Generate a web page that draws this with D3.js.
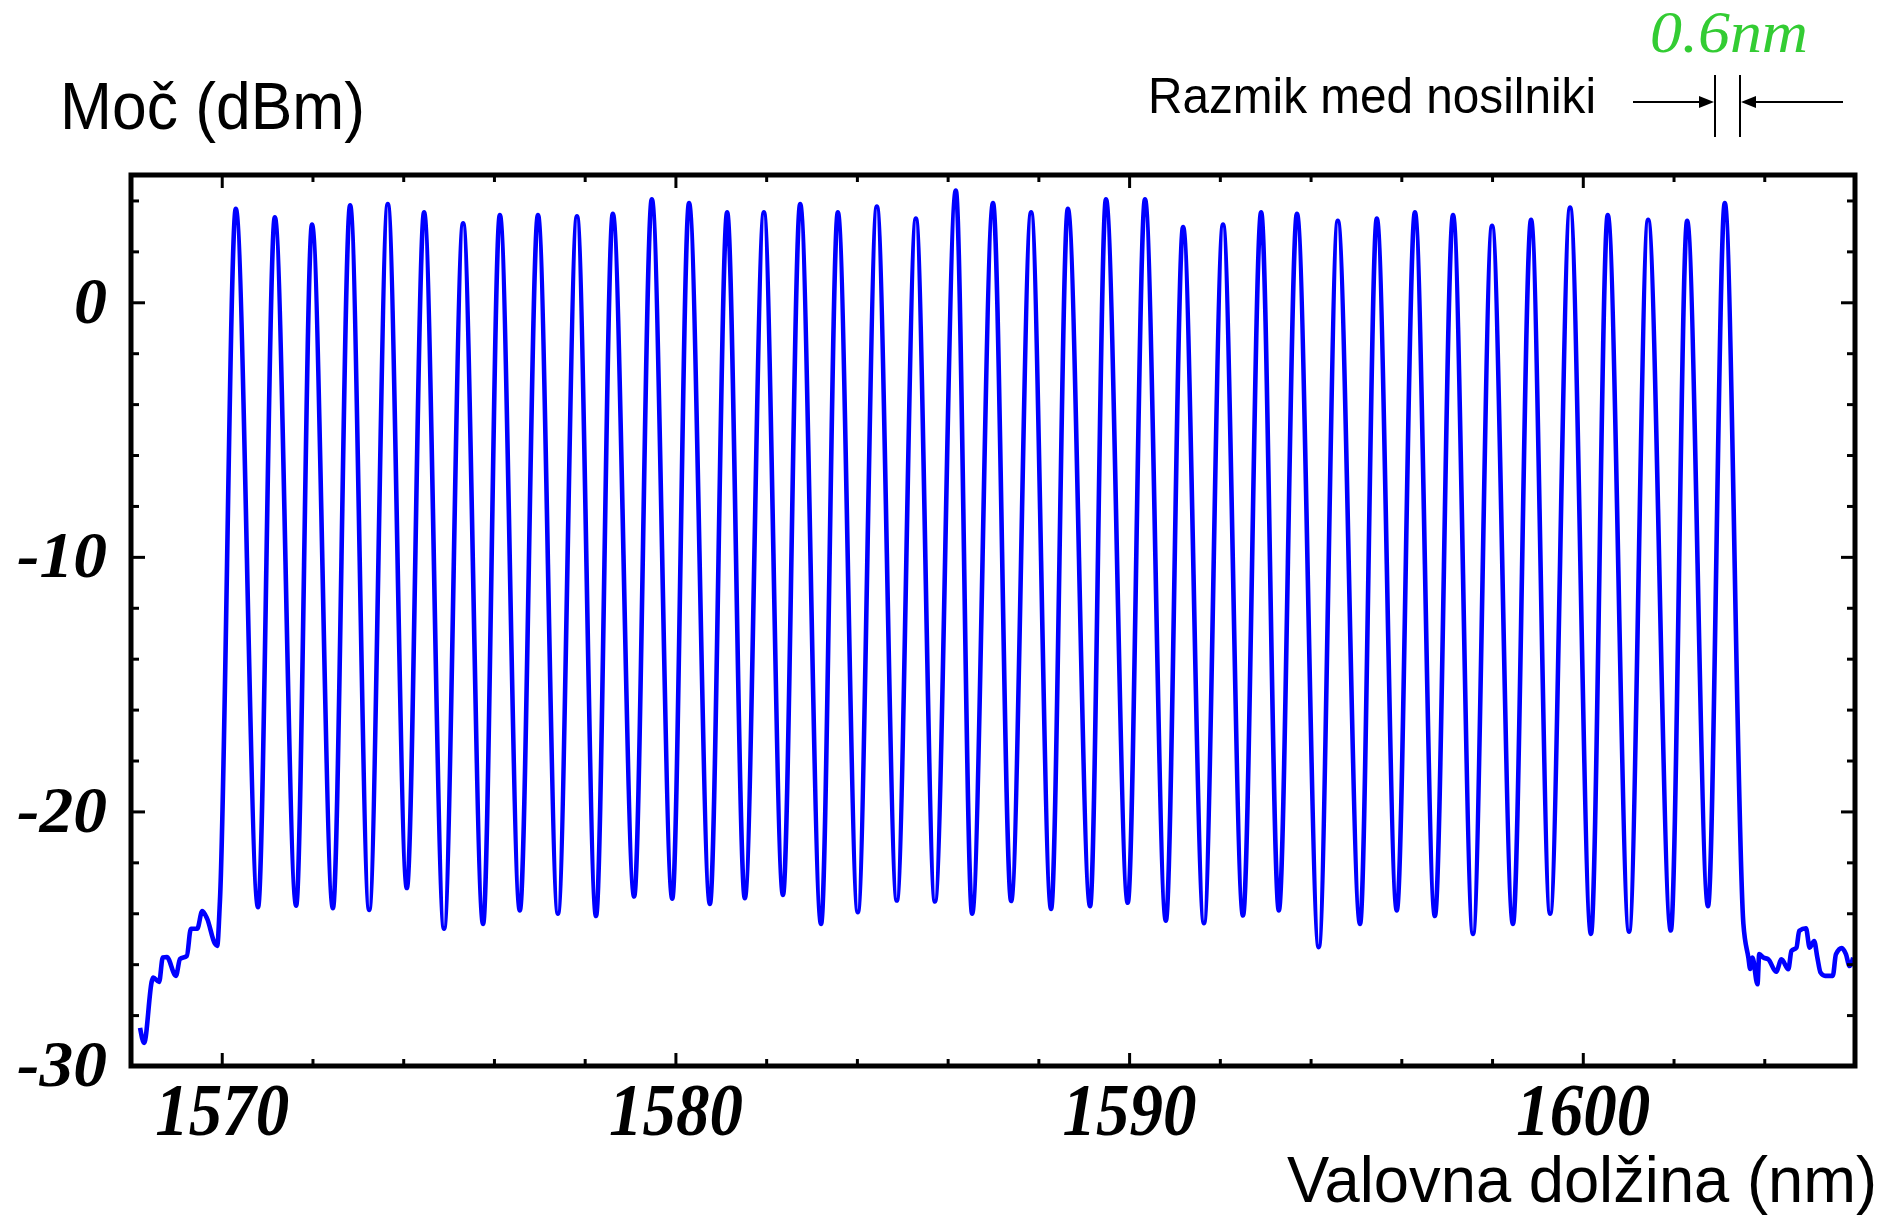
<!DOCTYPE html>
<html>
<head>
<meta charset="utf-8">
<script src="https://cdn.jsdelivr.net/npm/d3@7"></script>
<style>
  html, body { margin: 0; padding: 0; background: #ffffff; }
  svg { display: block; }
</style>
</head>
<body>
<script>
// ---------------- DATA ----------------
const yTickLabels = [-30, -20, -10, 0];
const xTickLabels = [1570, 1580, 1590, 1600];
const yMinorTicks = [-28, -26, -24, -22, -20, -18, -16, -14, -12, -10, -8, -6, -4, -2, 0, 2, 4];
const xMinorTicks = [1570, 1572, 1574, 1576, 1578, 1580, 1582, 1584, 1586, 1588, 1590, 1592, 1594, 1596, 1598, 1600, 1602, 1604];

// carrier peaks (wavelength nm, power dBm)
const peakWl = [1570.31, 1571.17, 1571.99, 1572.83, 1573.66, 1574.46, 1575.32, 1576.13, 1576.97, 1577.83,
                1578.62, 1579.48, 1580.30, 1581.14, 1581.95, 1582.75, 1583.58, 1584.44, 1585.30, 1586.18,
                1587.00, 1587.84, 1588.65, 1589.49, 1590.35, 1591.19, 1592.07, 1592.91, 1593.70, 1594.60,
                1595.46, 1596.30, 1597.14, 1598.00, 1598.86, 1599.72, 1600.55, 1601.44, 1602.30, 1603.13];
const peakDb = [3.67, 3.34, 3.05, 3.81, 3.86, 3.53, 3.10, 3.43, 3.43, 3.38,
                3.48, 4.05, 3.90, 3.53, 3.53, 3.86, 3.53, 3.76, 3.29, 4.39,
                3.90, 3.53, 3.67, 4.05, 4.05, 2.96, 3.05, 3.53, 3.48, 3.20,
                3.29, 3.53, 3.43, 3.00, 3.24, 3.72, 3.43, 3.24, 3.20, 3.90];
// dips between carriers
const troughWl = [1570.80, 1571.64, 1572.45, 1573.25, 1574.08, 1574.90, 1575.76, 1576.57, 1577.41, 1578.25,
                  1579.09, 1579.93, 1580.76, 1581.53, 1582.37, 1583.21, 1584.02, 1584.88, 1585.72, 1586.54,
                  1587.40, 1588.28, 1589.14, 1589.97, 1590.81, 1591.65, 1592.51, 1593.30, 1594.18, 1595.09,
                  1595.90, 1596.74, 1597.58, 1598.46, 1599.28, 1600.18, 1601.02, 1601.94, 1602.76];
const troughDb = [-23.76, -23.70, -23.80, -23.87, -23.01, -24.61, -24.42, -23.89, -24.02, -24.11,
                  -23.34, -23.43, -23.63, -23.41, -23.28, -24.42, -23.96, -23.50, -23.54, -24.02,
                  -23.52, -23.83, -23.72, -23.59, -24.29, -24.39, -24.09, -23.89, -25.33, -24.42,
                  -23.89, -24.11, -24.81, -24.42, -24.02, -24.81, -24.72, -24.68, -23.72];
// noise floor left of the comb
const leftWl = [1568.20, 1568.29, 1568.46, 1568.49, 1568.62, 1568.70, 1568.79, 1568.99, 1569.08, 1569.23,
                1569.32, 1569.46, 1569.57, 1569.68, 1569.85, 1569.90, 1569.96];
const leftDb = [-28.50, -29.09, -26.66, -26.53, -26.70, -25.74, -25.72, -26.46, -25.80, -25.68,
                -24.61, -24.61, -23.91, -24.22, -25.20, -25.28, -23.52];
// noise floor right of the comb
const rightWl = [1603.54, 1603.65, 1603.69, 1603.74, 1603.85, 1603.89, 1603.98, 1604.09, 1604.26, 1604.38,
                 1604.53, 1604.60, 1604.71, 1604.77, 1604.92, 1605.00, 1605.10, 1605.17, 1605.24, 1605.34,
                 1605.51, 1605.58, 1605.71, 1605.80, 1605.88, 1605.96];
const rightDb = [-24.42, -25.74, -26.19, -25.74, -26.79, -25.60, -25.74, -25.81, -26.30, -25.81,
                 -26.20, -25.48, -25.35, -24.69, -24.59, -25.35, -25.09, -25.74, -26.33, -26.46,
                 -26.46, -25.61, -25.37, -25.61, -26.07, -25.74];

// ---------------- CHART ----------------
const W = 1899, H = 1215;
const svg = d3.select("body").append("svg").attr("width", W).attr("height", H);
svg.append("rect").attr("width", W).attr("height", H).attr("fill", "#fff");

const x = d3.scaleLinear().domain([1568, 1606]).range([131, 1855]);
const y = d3.scaleLinear().domain([-30, 5]).range([1066, 175]);

// assemble series
const series = [];
leftWl.forEach((w, i) => series.push([w, leftDb[i]]));
peakWl.forEach((w, i) => {
  series.push([w, peakDb[i]]);
  if (i < troughWl.length) series.push([troughWl[i], troughDb[i]]);
});
rightWl.forEach((w, i) => series.push([w, rightDb[i]]));

const line = d3.line().x(d => x(d[0])).y(d => y(d[1])).curve(d3.curveMonotoneX);
svg.append("path").datum(series)
  .attr("d", line)
  .attr("fill", "none")
  .attr("stroke", "#0000ff")
  .attr("stroke-width", 4.6)
  .attr("stroke-linejoin", "round");

// tick marks (inward) on all four sides
function tickAxis(axis, values, size, transform) {
  const g = svg.append("g").attr("transform", transform)
    .call(axis.tickValues(values).tickSize(size).tickFormat(""));
  g.select(".domain").remove();
  g.selectAll(".tick line").attr("stroke", "#000").attr("stroke-width", 3);
  return g;
}
const xMajorSet = new Set(xTickLabels);
const yMajorSet = new Set(yTickLabels);
const xMin = xMinorTicks.filter(v => !xMajorSet.has(v));
const yMin = yMinorTicks.filter(v => !yMajorSet.has(v));
const yMaj = yMinorTicks.filter(v => yMajorSet.has(v));

tickAxis(d3.axisBottom(x), xMin, -7, `translate(0,${y(-30)})`);
tickAxis(d3.axisBottom(x), xTickLabels, -13, `translate(0,${y(-30)})`);
tickAxis(d3.axisTop(x), xMin, -7, `translate(0,${y(5)})`);
tickAxis(d3.axisTop(x), xTickLabels, -13, `translate(0,${y(5)})`);
tickAxis(d3.axisLeft(y), yMin, -8, `translate(${x(1568)},0)`);
tickAxis(d3.axisLeft(y), yMaj, -14, `translate(${x(1568)},0)`);
tickAxis(d3.axisRight(y), yMin, -8, `translate(${x(1606)},0)`);
tickAxis(d3.axisRight(y), yMaj, -14, `translate(${x(1606)},0)`);

// frame
svg.append("rect")
  .attr("x", x(1568)).attr("y", y(5))
  .attr("width", x(1606) - x(1568)).attr("height", y(-30) - y(5))
  .attr("fill", "none").attr("stroke", "#000").attr("stroke-width", 5);

// tick labels
const labelFont = "'Liberation Serif', 'Times New Roman', serif";
const yAx = svg.append("g").attr("transform", `translate(${x(1568)},0)`)
  .call(d3.axisLeft(y).tickValues(yTickLabels).tickSize(0).tickPadding(24).tickFormat(d => String(d)));
yAx.select(".domain").remove();
yAx.selectAll("text")
  .attr("font-family", labelFont).attr("font-style", "italic").attr("font-weight", "bold")
  .attr("font-size", 66).attr("fill", "#000").attr("dy", "0.3em")
  .attr("textLength", d => String(d).length === 1 ? 33 : 90)
  .attr("lengthAdjust", "spacingAndGlyphs");

const xAx = svg.append("g").attr("transform", `translate(0,${y(-30)})`)
  .call(d3.axisBottom(x).tickValues(xTickLabels).tickSize(0).tickPadding(16).tickFormat(d => String(d)));
xAx.select(".domain").remove();
xAx.selectAll("text")
  .attr("font-family", labelFont).attr("font-style", "italic").attr("font-weight", "bold")
  .attr("font-size", 74).attr("fill", "#000")
  .attr("textLength", 134).attr("lengthAdjust", "spacingAndGlyphs");

// axis titles
const sans = "'Liberation Sans', Arial, Helvetica, sans-serif";
svg.append("text").text("Moč (dBm)")
  .attr("x", 60).attr("y", 129)
  .attr("font-family", sans).attr("font-size", 67).attr("fill", "#000")
  .attr("textLength", 305).attr("lengthAdjust", "spacingAndGlyphs");

svg.append("text").text("Valovna dolžina (nm)")
  .attr("x", 1287).attr("y", 1202)
  .attr("font-family", sans).attr("font-size", 64).attr("fill", "#000")
  .attr("textLength", 590).attr("lengthAdjust", "spacingAndGlyphs");

// carrier spacing annotation
svg.append("text").text("Razmik med nosilniki")
  .attr("x", 1148).attr("y", 113)
  .attr("font-family", sans).attr("font-size", 50).attr("fill", "#000")
  .attr("textLength", 448).attr("lengthAdjust", "spacingAndGlyphs");

svg.append("text").text("0.6nm")
  .attr("x", 1650).attr("y", 52)
  .attr("font-family", labelFont).attr("font-style", "italic").attr("font-size", 60)
  .attr("fill", "#33cc33")
  .attr("textLength", 158).attr("lengthAdjust", "spacingAndGlyphs");

const ann = svg.append("g").attr("stroke", "#000").attr("stroke-width", 2);
ann.append("line").attr("x1", 1715).attr("x2", 1715).attr("y1", 75).attr("y2", 137);
ann.append("line").attr("x1", 1740).attr("x2", 1740).attr("y1", 75).attr("y2", 137);
ann.append("line").attr("x1", 1633).attr("x2", 1702).attr("y1", 102).attr("y2", 102);
ann.append("line").attr("x1", 1843).attr("x2", 1753).attr("y1", 102).attr("y2", 102);
svg.append("path").attr("d", "M1714,102 L1699,96 L1699,108 Z").attr("fill", "#000");
svg.append("path").attr("d", "M1741,102 L1756,96 L1756,108 Z").attr("fill", "#000");
</script>
</body>
</html>
